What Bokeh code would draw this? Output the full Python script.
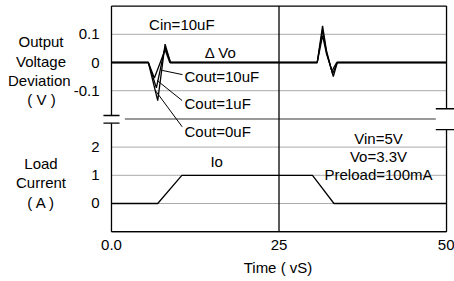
from bokeh.plotting import figure
from bokeh.models import Range1d, FixedTicker, Label
from bokeh.layouts import row
from bokeh.embed import file_html
from bokeh.resources import INLINE

# ---------------- data ----------------
time_io = [0, 6.9, 10.5, 30, 33.2, 50]
load_current = [0, 0, 1, 1, 0, 0]

time_cout0 = [0, 5.5, 6.9, 8.0, 8.8, 30.7, 31.5, 32.1, 33.1, 33.7, 50]
dv_cout0 = [0, 0, -0.135, 0.065, 0, 0, 0.13, 0.04, -0.05, 0, 0]
time_cout1 = [0, 5.5, 6.7, 8.0, 8.8, 30.7, 31.5, 32.1, 33.0, 33.7, 50]
dv_cout1 = [0, 0, -0.09, 0.055, 0, 0, 0.115, 0.035, -0.04, 0, 0]
time_cout10 = [0, 5.5, 6.4, 8.0, 8.7, 30.7, 31.5, 32.1, 32.9, 33.6, 50]
dv_cout10 = [0, 0, -0.055, 0.045, 0, 0, 0.095, 0.03, -0.03, 0, 0]

current_ticks = [0, 1, 2]
current_labels = ["0", "1", "2"]
voltage_ticks = [-0.1, 0, 0.1]
voltage_labels = ["-0.1", "0", "0.1"]
time_ticks = [0, 25, 50]
time_labels = ["0.0", "25", "50"]

# voltage panel is stacked above the current panel on a shared y scale
V_OFF = 5
V_SCALE = 10


def vy(v):
    return V_OFF + V_SCALE * v


FONT = "Liberation Sans"
FS = "15px"
TITLE_W = 70
AXIS_W = 31
BOTTOM = 48

yr = Range1d(-1.064, 7.199)

p = figure(width=454 - TITLE_W, height=281,
           x_range=Range1d(-1.49, 51.19), y_range=yr,
           output_backend="svg", toolbar_location=None,
           min_border_left=AXIS_W, min_border_right=0, min_border_top=0, min_border_bottom=BOTTOM)
p.outline_line_color = None
p.grid.visible = False
p.background_fill_color = "white"
p.border_fill_color = "white"

# y axis ticks
y_ticks = list(current_ticks) + [vy(v) for v in voltage_ticks]
y_over = {}
for tk, lb in zip(current_ticks, current_labels):
    y_over[tk] = lb
for v, lb in zip(voltage_ticks, voltage_labels):
    y_over[round(vy(v), 6)] = lb
p.yaxis.ticker = FixedTicker(ticks=[round(tk, 6) for tk in y_ticks])
p.yaxis.major_label_overrides = y_over
p.yaxis.axis_line_color = None
p.yaxis.major_tick_line_color = None
p.yaxis.minor_tick_line_color = None
p.yaxis.major_tick_out = 0
p.yaxis.major_tick_in = 0
p.yaxis.major_label_standoff = 2
p.yaxis.major_label_text_font = FONT
p.yaxis.major_label_text_font_size = FS
p.yaxis.major_label_text_color = "black"

p.xaxis.ticker = FixedTicker(ticks=time_ticks)
p.xaxis.major_label_overrides = {tk: lb for tk, lb in zip(time_ticks, time_labels)}
p.xaxis.axis_line_color = None
p.xaxis.major_tick_line_color = None
p.xaxis.minor_tick_line_color = None
p.xaxis.major_tick_out = 0
p.xaxis.major_tick_in = 0
p.xaxis.major_label_standoff = 6
p.xaxis.major_label_text_font = FONT
p.xaxis.major_label_text_font_size = FS
p.xaxis.major_label_text_color = "black"
p.xaxis.axis_label = "Time ( vS)"
p.xaxis.axis_label_standoff = 6
p.xaxis.axis_label_text_font = FONT
p.xaxis.axis_label_text_font_size = FS
p.xaxis.axis_label_text_font_style = "normal"
p.xaxis.axis_label_text_color = "black"

# dotted grid lines (0.1, -0.1 V and 0, 1, 2 A)
grid_y = [vy(0.1), vy(-0.1)] + [0, 1, 2]
p.segment(x0=[0] * len(grid_y), y0=grid_y, x1=[50] * len(grid_y), y1=grid_y,
          line_color="#555555", line_width=1, line_dash="1 1")

# panel divider
p.segment(x0=[2.0], y0=[3], x1=[48.4], y1=[3], line_color="#777777", line_width=1.5)

# waveforms
for tt, dv in [(time_cout0, dv_cout0), (time_cout1, dv_cout1), (time_cout10, dv_cout10)]:
    p.line(tt, [vy(v) for v in dv], line_color="black", line_width=1.3)
p.line(time_io, load_current, line_color="black", line_width=1.3)

# frame with axis breaks
fx0 = [0, 50, 0, 0, 50, 25, 0, 0, -1.2, -1.2, 48.4, 48.4]
fy0 = [7, 7, 2.85, -1, 2.62, -1, 7, -1, 3.12, 2.85, 3.36, 2.62]
fx1 = [0, 50, 0, 50, 50, 25, 50, 50, 1.2, 1.2, 51.3, 51.3]
fy1 = [3.12, 3.36, -1, -1, -1, 7, 7, -1, 3.12, 2.85, 3.36, 2.62]
p.segment(x0=fx0, y0=fy0, x1=fx1, y1=fy1, line_color="black", line_width=1.3)

# leader lines
p.segment(x0=[7.57, 6.82, 6.57], y0=[4.72, 4.36, 4.0], x1=[10.6, 10.55, 10.55], y1=[4.57, 3.65, 2.72],
          line_color="black", line_width=1)


def lab(fig, x, y, text, align="center"):
    fig.add_layout(Label(x=x, y=y, text=text, text_align=align, text_baseline="middle",
                         text_font=FONT, text_font_size=FS, text_color="black"))


lab(p, 10.5, 6.35, "Cin=10uF")
lab(p, 16.3, 5.37, "\u0394 Vo")
lab(p, 10.9, 4.52, "Cout=10uF", "left")
lab(p, 10.9, 3.55, "Cout=1uF", "left")
lab(p, 10.9, 2.55, "Cout=0uF", "left")
lab(p, 15.7, 1.5, "Io")
lab(p, 39.85, 2.30, "Vin=5V")
lab(p, 39.85, 1.68, "Vo=3.3V")
lab(p, 39.85, 1.02, "Preload=100mA")

# side strip holding the two y-axis titles (shares the y range)
t = figure(width=TITLE_W, height=281, x_range=Range1d(0, TITLE_W), y_range=yr,
           x_axis_location=None, y_axis_location=None,
           output_backend="svg", toolbar_location=None,
           min_border_left=0, min_border_right=0, min_border_top=0, min_border_bottom=BOTTOM)
t.outline_line_color = None
t.grid.visible = False
t.background_fill_color = "white"
t.border_fill_color = "white"
for x, y, s in [(40.5, 5.73, "Output"), (40.5, 5.04, "Voltage"), (38.8, 4.36, "Deviation"),
                (41, 3.69, "( V )"), (40.5, 1.43, "Load"), (40.5, 0.755, "Current"),
                (41, 0.046, "( A )")]:
    lab(t, x, y, s)

layout = row(t, p)
open("out.html", "w").write(file_html(layout, INLINE))
